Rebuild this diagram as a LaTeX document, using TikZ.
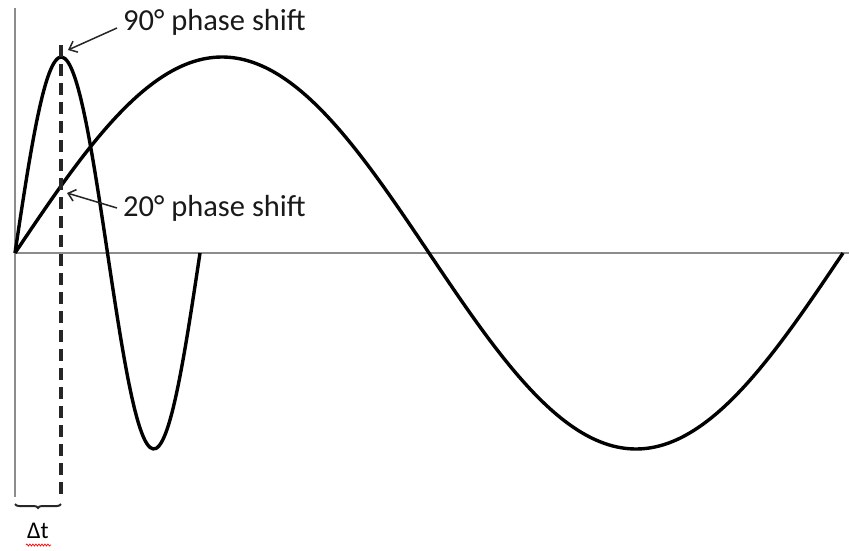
\documentclass[tikz,border=0pt]{standalone}
\usepackage{fontspec}
\setmainfont{Carlito}
\usetikzlibrary{arrows.meta,decorations.pathreplacing,decorations.pathmorphing}

\begin{document}
\begin{tikzpicture}[
    x=1pt, y=1pt,
    axis/.style={draw=black!45, line width=2.8pt},
    wave/.style={draw=black, line width=3.4pt, line join=round, smooth},
    marker/.style={draw=black!85, line width=3.2pt, dash pattern=on 12pt off 7pt},
    label/.style={font=\fontsize{30.5}{36}\selectfont, inner sep=0pt, anchor=west, text=black!90},
    pointer/.style={draw=black!85, line width=1.5pt, -{Straight Barb[length=7pt,width=12pt]}}
]
\useasboundingbox (-15,-297) rectangle (834,253);

% axes
\coordinate (origin) at (0,0);
\draw[axis] (0,245) -- (0,-244);
\draw[axis] (origin) -- (834,0);

% the two waves
\draw[wave] plot[domain=0:828, samples=120] (\x, {196*sin((\x/828)*360)});
\draw[wave] plot[domain=0:185, samples=60] (\x, {196*sin((\x/185)*360)});

% time shift marker
\coordinate (top) at (46,208);
\coordinate (bottom) at (46,-244);
\draw[marker] (top) -- (bottom);
\coordinate (peak) at (53,203);
\coordinate (cross) at (52,60);

\draw[black!85, line width=2pt, decorate, decoration={brace, mirror, amplitude=4pt}] (0,-251) -- (46,-251);
\node[font=\fontsize{24}{28}\selectfont, inner sep=0pt] (dt) at (23,-278) {Δt};
\draw[red, line width=0.7pt, decorate, decoration={snake, amplitude=1pt, segment length=3pt}] (11,-292) -- (36,-292);

% labels
\node[label] (shift90) at (108,231) {90° phase shift};
\node[label] (shift20) at (108,45) {20° phase shift};
\draw[pointer] (shift90.west) ++(-6,-6) -- (peak);
\draw[pointer] (shift20.west) ++(-6,0) -- (cross);

\end{tikzpicture}
\end{document}
